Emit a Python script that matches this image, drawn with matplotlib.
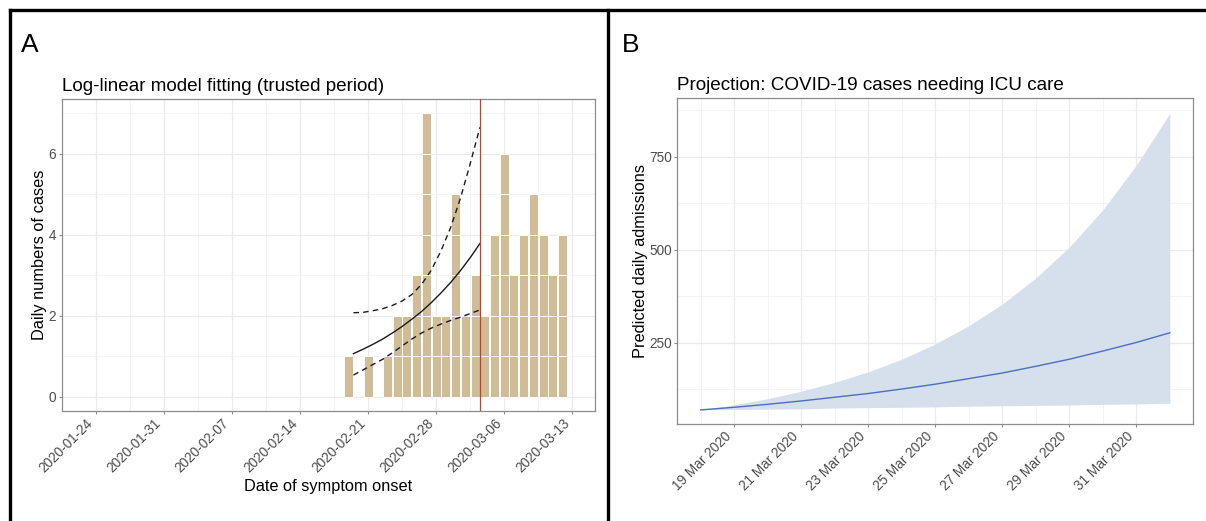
import numpy as np
import pandas as pd
import matplotlib
matplotlib.use("Agg")
import matplotlib.pyplot as plt
import matplotlib.dates as mdates
from matplotlib.lines import Line2D

plt.rcParams["font.family"] = ["Liberation Sans", "DejaVu Sans"]

# --- panel A : incidence par date de debut des symptomes ---
onset_dates = pd.date_range("2020-02-19", "2020-03-12", freq="D")
daily_cases = [1, 0, 1, 0, 1, 2, 2, 3, 7, 2, 2, 5, 2, 3, 2, 4, 6, 3, 4, 5, 4, 3, 4]

# ajustement log-lineaire (periode de confiance), points a mi-journee
fit_dates = pd.date_range("2020-02-19 12:00", periods=14, freq="D")
fit_mean = [1.06, 1.17, 1.29, 1.42, 1.57, 1.73, 1.91, 2.10, 2.32, 2.56, 2.82, 3.11, 3.43, 3.78]
fit_upper = [2.07, 2.08, 2.12, 2.17, 2.25, 2.36, 2.52, 2.77, 3.12, 3.60, 4.18, 4.90, 5.75, 6.65]
fit_lower = [0.53, 0.66, 0.79, 0.92, 1.08, 1.25, 1.42, 1.57, 1.69, 1.79, 1.88, 1.96, 2.05, 2.14]
cutoff = pd.Timestamp("2020-03-03 12:00")

a_ticks = pd.date_range("2020-01-24", "2020-03-13", freq="7D")

# --- panel B : projection des admissions en reanimation ---
proj_dates = pd.date_range("2020-03-18", "2020-04-01", freq="D")
proj_mean = [70, 77, 85, 94, 104, 114, 126, 139, 154, 169, 187, 206, 228, 251, 277]
proj_upper = [70, 84, 100, 120, 144, 172, 206, 247, 296, 354, 424, 507, 607, 727, 866]
proj_lower = [70, 71, 72, 73, 75, 76, 77, 78, 80, 81, 82, 83, 85, 86, 88]

b_ticks = pd.date_range("2020-03-19", "2020-03-31", freq="2D")

W, H = 1206, 521
GRID = "#EBEBEB"
FRAME = "#8C8C8C"
TXT = "#4D4D4D"


def px_axes(fig, left, top, right, bottom):
    return fig.add_axes([left / W, 1 - bottom / H, (right - left) / W, (bottom - top) / H])


def habiller(ax):
    ax.set_facecolor("white")
    for s in ax.spines.values():
        s.set_color(FRAME)
        s.set_linewidth(0.9)
    ax.grid(True, which="major", color=GRID, lw=0.9, zorder=0)
    ax.grid(True, which="minor", color="#F3F3F3", lw=0.6, zorder=0)
    ax.set_axisbelow(True)
    ax.tick_params(which="major", length=2.4, width=0.8, color=FRAME,
                   labelsize=9.8, labelcolor=TXT, pad=1.5)
    ax.tick_params(which="minor", length=0)


fig = plt.figure(figsize=(W / 100, H / 100), dpi=100)

# ---------------- A ----------------
ax = px_axes(fig, 61.7, 99, 595, 410.7)
habiller(ax)
x_rep = np.repeat(mdates.date2num(onset_dates), daily_cases)
bottoms = np.concatenate([np.arange(n) for n in daily_cases])
ax.bar(x_rep, np.ones_like(bottoms), bottom=bottoms, width=0.92,
       color="#D0BD98", edgecolor="white", linewidth=0.7, zorder=2)
fx = mdates.date2num(fit_dates)
ax.plot(fx, fit_mean, color="#1a1a1a", lw=1.0, zorder=3)
ax.plot(fx, fit_upper, color="#1a1a1a", lw=1.0, ls=(0, (4, 3)), zorder=3)
ax.plot(fx, fit_lower, color="#1a1a1a", lw=1.0, ls=(0, (4, 3)), zorder=3)
ax.axvline(mdates.date2num(cutoff), color="#C9401F", lw=0.9, zorder=4)

ax.set_xlim(mdates.date2num(pd.Timestamp("2020-01-21 03:00")),
            mdates.date2num(pd.Timestamp("2020-03-15 08:00")))
ax.set_ylim(-0.35, 7.35)
ax.set_yticks([0, 2, 4, 6])
ax.set_yticks([1, 3, 5, 7], minor=True)
ax.set_xticks(mdates.date2num(a_ticks))
ax.set_xticks(mdates.date2num(a_ticks) - 3.5, minor=True)
ax.set_xticklabels([d.strftime("%Y-%m-%d") for d in a_ticks], rotation=45, ha="right")
ax.set_xlabel("Date of symptom onset", fontsize=11.8, labelpad=3)
ax.set_ylabel("Daily numbers of cases", fontsize=11.8, labelpad=1)
ax.set_title("Log-linear model fitting (trusted period)", fontsize=13.6, loc="left", pad=6)

# ---------------- B ----------------
bx = px_axes(fig, 677.3, 98.3, 1193.3, 424.3)
habiller(bx)
px = mdates.date2num(proj_dates)
bx.fill_between(px, proj_lower, proj_upper, color="#D6DFEC", lw=0, zorder=2)
bx.plot(px, proj_mean, color="#4A6FC0", lw=1.0, zorder=3)
bx.set_xlim(px[0] - 0.7, px[-1] + 0.7)
bx.set_ylim(31.3, 906.5)
bx.set_yticks([250, 500, 750])
bx.set_yticks([125, 375, 625, 875], minor=True)
bx.set_xticks(mdates.date2num(b_ticks))
bx.set_xticks(mdates.date2num(b_ticks) - 1, minor=True)
bx.set_xticklabels([f"{d.day} Mar 2020" for d in b_ticks], rotation=45, ha="right")
bx.set_ylabel("Predicted daily admissions", fontsize=11.8, labelpad=1)
bx.set_title("Projection: COVID-19 cases needing ICU care", fontsize=13.6, loc="left", pad=6)

# etiquettes de panneau
fig.text(21 / W, 1 - 45 / H, "A", fontsize=19, va="center", ha="left")
fig.text(622 / W, 1 - 45 / H, "B", fontsize=19, va="center", ha="left")

# cadres noirs
for (x0, y0, x1, y1) in [(10, 10, W, 10), (10, 10, 10, H), (608, 10, 608, H)]:
    fig.add_artist(Line2D([x0 / W, x1 / W], [1 - y0 / H, 1 - y1 / H],
                          color="black", lw=2.4, transform=fig.transFigure))

fig.savefig("out.png", dpi=100)
